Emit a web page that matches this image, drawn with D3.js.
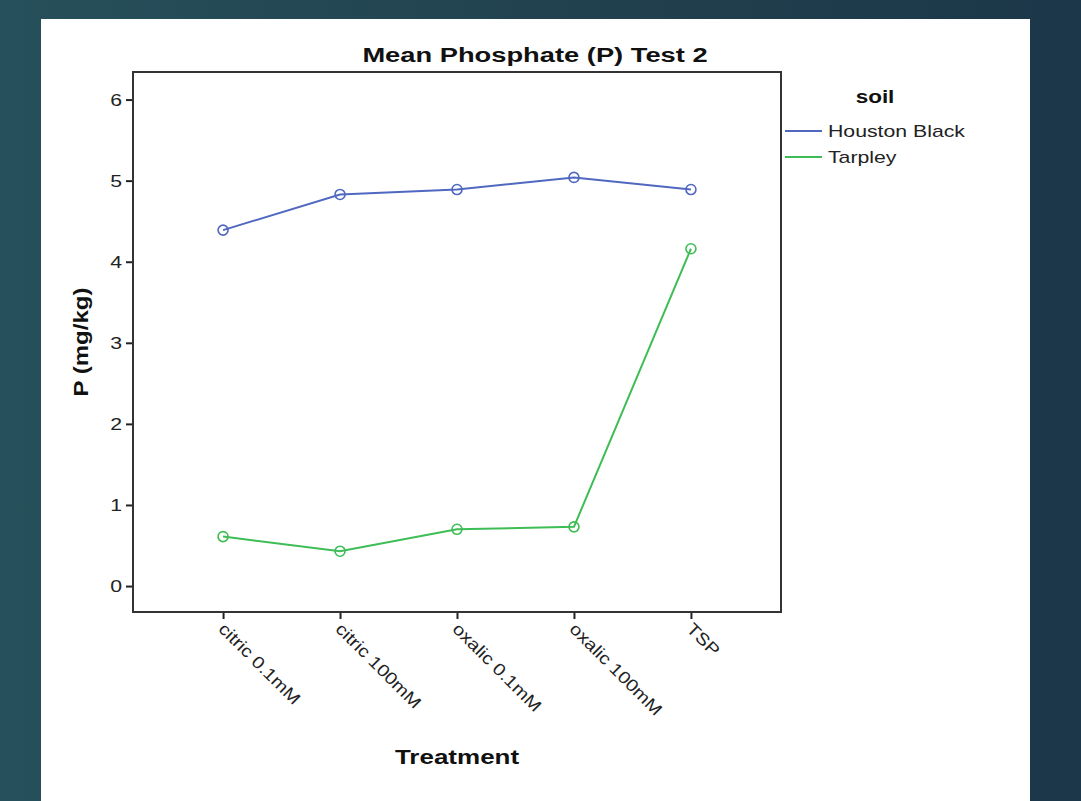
<!DOCTYPE html>
<html>
<head>
<meta charset="utf-8" />
<title>Mean Phosphate (P) Test 2</title>
<script src="https://cdnjs.cloudflare.com/ajax/libs/d3/7.8.5/d3.min.js"></script>
<style>
  body { margin: 0; background: linear-gradient(90deg, #26505b 0%, #213f4d 60%, #1b3749 100%); }
  svg { display: block; font-family: "Liberation Sans", Arial, sans-serif; }
</style>
</head>
<body>
<svg id="chart" width="1081" height="801"></svg>
<script>
  // data
  const treatments = ['citric 0.1mM', 'citric 100mM', 'oxalic 0.1mM', 'oxalic 100mM', 'TSP']
  const houstonBlack = [4.39, 4.83, 4.89, 5.04, 4.89]
  const tarpley = [0.61, 0.43, 0.70, 0.73, 4.16]
  const soils = ['Houston Black', 'Tarpley']
  const yTicks = [0, 1, 2, 3, 4, 5, 6]

  const colors = { 'Houston Black': '#5068c0', 'Tarpley': '#3dbd55' }
  const series = [
    { name: 'Houston Black', values: houstonBlack },
    { name: 'Tarpley', values: tarpley }
  ]

  // the original text is set wider than Liberation Sans, stretch it a bit
  const stretch = 'scale(1.25,1)'

  const svg = d3.select('#chart')

  // white panel
  svg.append('rect')
    .attr('x', 41).attr('y', 19)
    .attr('width', 989).attr('height', 782)
    .style('fill', '#fff')

  const plotLeft = 133, plotRight = 781, plotTop = 72, plotBottom = 612

  let xScale = d3.scalePoint().domain(treatments).range([plotLeft, plotRight]).padding(0.77)
  let yScale = d3.scaleLinear().domain([-0.32, 6.34]).range([plotBottom, plotTop])

  // y axis
  let yAxis = d3.axisLeft(yScale).tickValues(yTicks).tickFormat(d3.format('d')).tickSize(7).tickPadding(3)
  let gy = svg.append('g').attr('transform', 'translate(' + plotLeft + ',0)').call(yAxis)
  gy.select('path.domain').remove()
  gy.selectAll('line').style('stroke', '#222').style('stroke-width', '2px')
  gy.selectAll('text')
    .style('font-size', '17px').style('fill', '#222')
    .attr('x', 0).attr('transform', 'translate(-11,0) ' + stretch)

  // x axis
  let xAxis = d3.axisBottom(xScale).tickSize(7)
  let gx = svg.append('g').attr('transform', 'translate(0,' + plotBottom + ')').call(xAxis)
  gx.select('path.domain').remove()
  gx.selectAll('line').style('stroke', '#222').style('stroke-width', '2px')
  gx.selectAll('text')
    .style('font-size', '17px').style('fill', '#222')
    .attr('text-anchor', 'start')
    .attr('x', 0).attr('y', 0).attr('dy', null)
    .attr('transform', 'translate(-6,18) rotate(45) scale(1.17,1)')

  // frame
  svg.append('rect')
    .attr('x', plotLeft).attr('y', plotTop)
    .attr('width', plotRight - plotLeft).attr('height', plotBottom - plotTop)
    .style('fill', 'none').style('stroke', '#333').style('stroke-width', '2px')

  // lines and markers
  let line = d3.line()
    .x(function(d, i) { return xScale(treatments[i]) })
    .y(function(d) { return yScale(d) })

  series.forEach(function(s) {
    svg.append('path')
      .datum(s.values)
      .attr('d', line)
      .style('fill', 'none')
      .style('stroke', colors[s.name])
      .style('stroke-width', '2px')

    svg.append('g').selectAll('circle')
      .data(s.values)
      .enter()
      .append('circle')
      .attr('cx', function(d, i) { return xScale(treatments[i]) })
      .attr('cy', function(d) { return yScale(d) })
      .attr('r', 5)
      .style('fill', 'none')
      .style('stroke', colors[s.name])
      .style('stroke-width', '1.6px')
  })

  // titles
  svg.append('text')
    .attr('transform', 'translate(535,62) scale(1.3,1)')
    .attr('text-anchor', 'middle')
    .style('font-size', '21px').style('font-weight', 'bold').style('fill', '#111')
    .text('Mean Phosphate (P) Test 2')

  svg.append('text')
    .attr('transform', 'translate(' + (plotLeft + plotRight) / 2 + ',764) scale(1.3,1)')
    .attr('text-anchor', 'middle')
    .style('font-size', '20px').style('font-weight', 'bold').style('fill', '#111')
    .text('Treatment')

  svg.append('text')
    .attr('transform', 'translate(88,' + (plotTop + plotBottom) / 2 + ') rotate(-90) scale(1.2,1)')
    .attr('text-anchor', 'middle')
    .style('font-size', '20px').style('font-weight', 'bold').style('fill', '#111')
    .text('P (mg/kg)')

  // legend
  svg.append('text')
    .attr('transform', 'translate(875,103) ' + stretch)
    .attr('text-anchor', 'middle')
    .style('font-size', '18px').style('font-weight', 'bold').style('fill', '#111')
    .text('soil')

  let legend = svg.append('g').selectAll('g')
    .data(soils)
    .enter()
    .append('g')
    .attr('transform', function(d, i) { return 'translate(785,' + (131 + i * 26) + ')' })
  legend.append('line')
    .attr('x1', 0).attr('x2', 37)
    .style('stroke', function(d) { return colors[d] })
    .style('stroke-width', '2px')
  legend.append('text')
    .attr('transform', 'translate(43,0) ' + stretch)
    .attr('dy', '0.35em')
    .style('font-size', '17px').style('fill', '#222')
    .text(function(d) { return d })
</script>
</body>
</html>
